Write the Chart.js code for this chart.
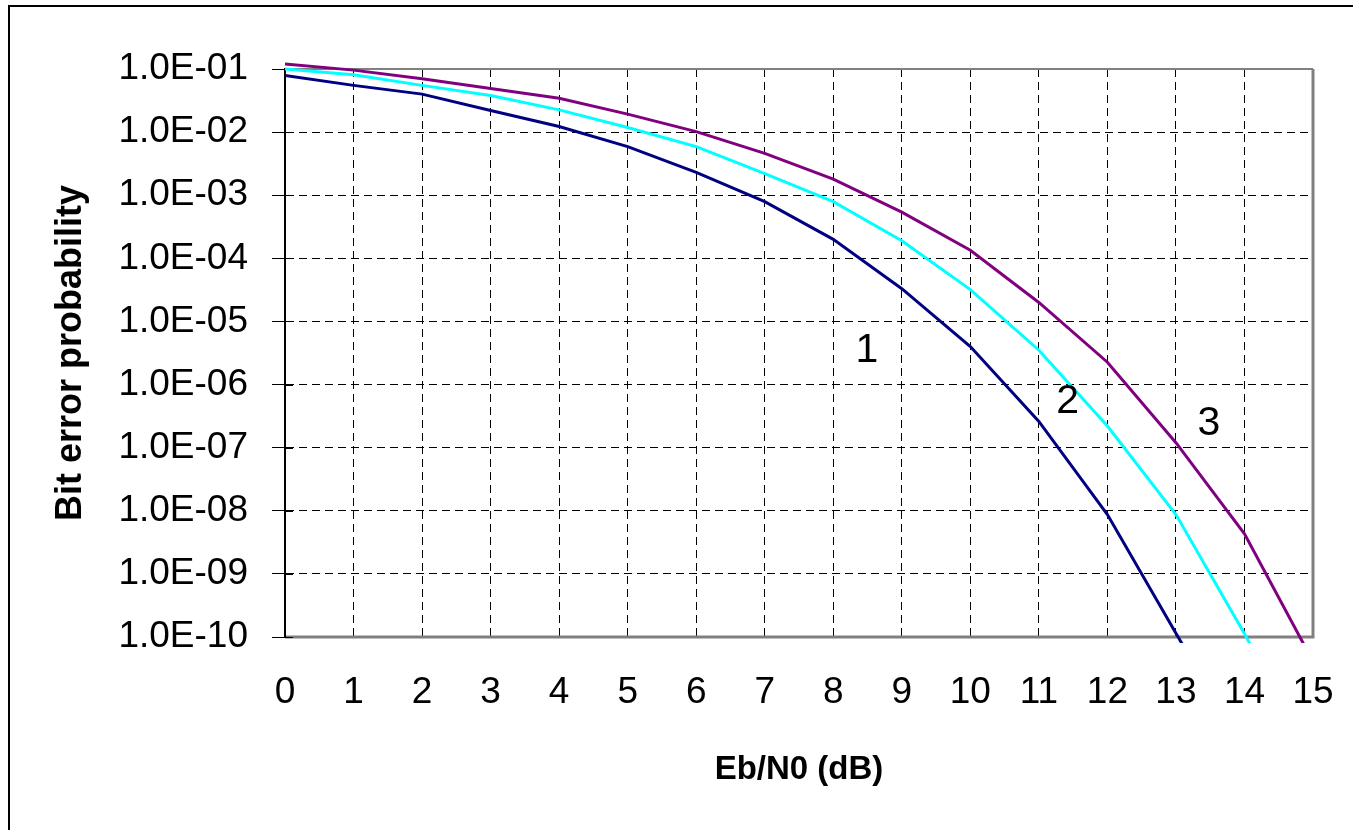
<!DOCTYPE html>
<html>
<head>
<meta charset="utf-8">
<title>Bit error probability vs Eb/N0</title>
<script src="https://cdn.jsdelivr.net/npm/chart.js@4.4.1/dist/chart.umd.min.js"></script>
<style>
  html, body { margin:0; padding:0; background:#fff; }
  canvas { display:block; }
</style>
</head>
<body>
<canvas id="berChart" width="1353" height="830"></canvas>
<script>
// x values (dB)
const EBN0 = [0, 1, 2, 3, 4, 5, 6, 7, 8, 9, 10, 11, 12, 13, 14, 15];
const X_TICK_LABELS = ["0","1","2","3","4","5","6","7","8","9","10","11","12","13","14","15"];

// curves (the tail points fall below the axis and get clipped)
const BER_1 = [7.9e-2, 5.5e-2, 4.0e-2, 2.2e-2, 1.23e-2, 5.9e-3, 2.3e-3, 7.9e-4, 2.0e-4, 3.3e-5, 4.0e-6, 2.6e-7, 8.7e-9, 1.15e-10, 1.5e-12];
const BER_2 = [1.0e-1, 8.1e-2, 5.5e-2, 3.8e-2, 2.25e-2, 1.18e-2, 5.9e-3, 2.2e-3, 7.9e-4, 1.9e-4, 3.2e-5, 3.5e-6, 2.2e-7, 8.7e-9, 1.13e-10, 1.0e-12];
const BER_3 = [1.2e-1, 9.6e-2, 7.0e-2, 4.9e-2, 3.45e-2, 1.93e-2, 1.02e-2, 4.6e-3, 1.8e-3, 5.4e-4, 1.34e-4, 2.0e-5, 2.26e-6, 1.2e-7, 4.3e-9, 4.1e-11];

const Y_TICKS = [1e-1, 1e-2, 1e-3, 1e-4, 1e-5, 1e-6, 1e-7, 1e-8, 1e-9, 1e-10];
const Y_TICK_LABELS = ["1.0E-01","1.0E-02","1.0E-03","1.0E-04","1.0E-05","1.0E-06","1.0E-07","1.0E-08","1.0E-09","1.0E-10"];

// curve numbers written on the plot
const CURVE_LABELS = ["1", "2", "3"];
const CURVE_LABEL_X = [8.49, 11.42, 13.48];
const CURVE_LABEL_Y = [3.5e-6, 5.3e-7, 2.4e-7];

const FONT = '"Liberation Sans", Arial, Helvetica, sans-serif';

/* =====================
   frame, plot border, labels
===================== */
const framePlugin = {
  id: "frame",
  beforeDraw(chart){
    const ctx = chart.ctx;
    ctx.save();
    ctx.strokeStyle = "#000";
    ctx.lineWidth = 2;
    ctx.strokeRect(9, 6, 1400, 900);
    ctx.restore();
  },
  beforeDatasetsDraw(chart){
    const {ctx, chartArea: a, scales: {y}} = chart;
    ctx.save();
    ctx.strokeStyle = "#808080";
    ctx.lineWidth = 2;
    ctx.beginPath();
    ctx.moveTo(a.left, a.top);
    ctx.lineTo(a.right, a.top);
    ctx.stroke();
    ctx.lineWidth = 3;
    ctx.beginPath();
    ctx.moveTo(a.right, a.top);
    ctx.lineTo(a.right, a.bottom);
    ctx.lineTo(a.left, a.bottom);
    ctx.stroke();

    // axis line and the inner half of the tick marks
    ctx.strokeStyle = "#000";
    ctx.lineWidth = 2;
    ctx.beginPath();
    ctx.moveTo(a.left, a.top);
    ctx.lineTo(a.left, a.bottom);
    ctx.stroke();
    ctx.lineWidth = 1;
    Y_TICKS.forEach(v=>{
      const py = Math.round(y.getPixelForValue(v)) + 0.5;
      ctx.beginPath();
      ctx.moveTo(a.left, py);
      ctx.lineTo(a.left + 8, py);
      ctx.stroke();
    });
    ctx.restore();
  },
  afterDatasetsDraw(chart){
    const {ctx, scales: {x, y}} = chart;
    ctx.save();
    ctx.fillStyle = "#000";
    ctx.font = `41px ${FONT}`;
    ctx.textAlign = "center";
    ctx.textBaseline = "middle";
    CURVE_LABELS.forEach((t, i)=>{
      ctx.fillText(t, x.getPixelForValue(CURVE_LABEL_X[i]), y.getPixelForValue(CURVE_LABEL_Y[i]));
    });
    ctx.restore();
  }
};

function curve(data, color){
  return {
    data: data,
    borderColor: color,
    backgroundColor: color,
    borderWidth: 3,
    pointRadius: 0,
    tension: 0,
    fill: false,
    clip: {left: 0, top: false, right: 0, bottom: 6}
  };
}

const ctx = document.getElementById("berChart").getContext("2d");
new Chart(ctx, {
  type: "line",
  data: {
    labels: EBN0,
    datasets: [
      curve(BER_1, "#000080"),
      curve(BER_2, "#00FFFF"),
      curve(BER_3, "#800080")
    ]
  },
  options: {
    responsive: false,
    animation: false,
    layout: { padding: { top: 69, right: 40, left: 0, bottom: 0 } },
    plugins: { legend: { display: false }, tooltip: { enabled: false } },
    scales: {
      x: {
        type: "linear",
        min: 0,
        max: 15,
        afterBuildTicks: s => { s.ticks = EBN0.map(v => ({ value: v })); },
        afterFit: s => { s.height = 193; },
        ticks: {
          color: "#000",
          font: { family: FONT, size: 37 },
          padding: 0,
          autoSkip: false,
          maxRotation: 0,
          callback: v => X_TICK_LABELS[EBN0.indexOf(v)]
        },
        // invisible tick marks keep the labels well below the axis
        grid: { color: "#000", lineWidth: 1, drawTicks: true, tickLength: 34, tickColor: "rgba(0,0,0,0)" },
        border: { display: false, dash: [8, 5] },
        title: {
          display: true,
          text: "Eb/N0 (dB)",
          color: "#000",
          font: { family: FONT, size: 33, weight: "bold" },
          padding: { top: 0, bottom: 40 }
        }
      },
      y: {
        type: "logarithmic",
        min: 1e-10,
        max: 1e-1,
        afterBuildTicks: s => { s.ticks = Y_TICKS.map(v => ({ value: v })); },
        afterFit: s => { s.width = 285; },
        ticks: {
          color: "#000",
          font: { family: FONT, size: 37 },
          padding: 24,
          autoSkip: false,
          callback: v => {
            const i = Y_TICKS.findIndex(t => Math.abs(Math.log10(t) - Math.log10(v)) < 1e-6);
            return i < 0 ? "" : Y_TICK_LABELS[i];
          }
        },
        grid: { color: "#000", lineWidth: 1, tickColor: "#000", tickLength: 13, tickWidth: 1, tickBorderDash: [] },
        border: { display: true, color: "#000", width: 2, dash: [8, 5] },
        title: {
          display: true,
          text: "Bit error probability",
          color: "#000",
          font: { family: FONT, size: 36, weight: "bold" },
          padding: { top: 49, bottom: 0 }
        }
      }
    }
  },
  plugins: [framePlugin]
});
</script>
</body>
</html>
